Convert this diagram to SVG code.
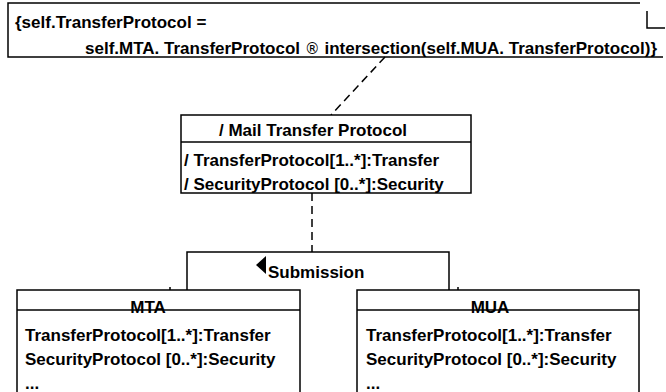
<svg xmlns="http://www.w3.org/2000/svg" width="666" height="392" viewBox="0 0 666 392">
  <style>
    .t { font-family: "Liberation Sans", Arial, sans-serif; font-weight: bold; font-size: 17px; fill: #000; }
    .sym { font-family: "DejaVu Sans", sans-serif; font-weight: normal; font-size: 15px; }
    .ln { fill: none; stroke: #000; stroke-width: 1.5; }
    .dash { fill: none; stroke: #000; stroke-width: 1.5; stroke-dasharray: 8 5; }
    .box { fill: #fff; stroke: #000; stroke-width: 1.5; }
  </style>
  <rect width="666" height="392" fill="#fff"/>

  <!-- constraint note -->
  <g id="note">
    <path class="ln" d="M640 3 H8 V57 H663"/>
    <path class="ln" d="M647 11 V28 H665"/>
    <text class="t" x="15" y="28">{self.TransferProtocol =</text>
    <text class="t" x="85" y="54">self.MTA. TransferProtocol <tspan class="sym">®</tspan> intersection(self.MUA. TransferProtocol)}</text>
  </g>

  <!-- connectors -->
  <g id="connectors">
    <path class="dash" d="M385 57 L331 115"/>
    <path class="dash" d="M312 193 V252"/>
    <path class="ln" d="M187 290 V252 H449 V290"/>
    <path class="ln" d="M170 287 V290 M458 287 V290"/>
  </g>

  <!-- derived association class -->
  <g id="mail-transfer-protocol">
    <rect class="box" x="181" y="115" width="290" height="78"/>
    <line class="ln" x1="181" y1="142" x2="471" y2="142"/>
    <text class="t" x="313" y="136" text-anchor="middle">/ Mail Transfer Protocol</text>
    <text class="t" x="184" y="166">/ TransferProtocol[1..*]:Transfer</text>
    <text class="t" x="184" y="190">/ SecurityProtocol [0..*]:Security</text>
  </g>

  <!-- association name -->
  <g id="submission">
    <polygon points="256,265 266,256 266,274" fill="#000"/>
    <text class="t" x="268" y="278">Submission</text>
  </g>

  <g id="mta">
    <rect class="box" x="17" y="290" width="283" height="110"/>
    <text class="t" x="148" y="313" text-anchor="middle">MTA</text>
    <line class="ln" x1="17" y1="310" x2="300" y2="310"/>
    <text class="t" x="25" y="341">TransferProtocol[1..*]:Transfer</text>
    <text class="t" x="25" y="365">SecurityProtocol [0..*]:Security</text>
    <text class="t" x="25" y="389">...</text>
  </g>

  <g id="mua">
    <rect class="box" x="357" y="290" width="282" height="110"/>
    <text class="t" x="490" y="313" text-anchor="middle">MUA</text>
    <line class="ln" x1="357" y1="310" x2="639" y2="310"/>
    <text class="t" x="366" y="341">TransferProtocol[1..*]:Transfer</text>
    <text class="t" x="366" y="365">SecurityProtocol [0..*]:Security</text>
    <text class="t" x="366" y="389">...</text>
  </g>
</svg>
